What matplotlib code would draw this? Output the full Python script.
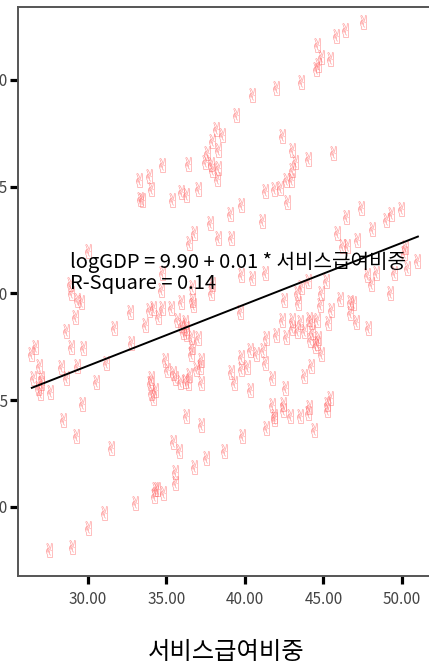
import matplotlib
matplotlib.use("Agg")
import matplotlib.pyplot as plt
import numpy as np

plt.rcParams['font.family'] = ['Noto Sans CJK KR', 'DejaVu Sans']

# service benefit share (%) and log GDP per observation
share = [
    38.15, 38.54, 37.90, 38.28, 37.58, 37.45, 37.83, 37.90, 38.28, 38.22,
    34.71, 36.37, 33.89, 33.25, 34.01, 33.31, 33.44, 35.35, 35.92, 36.24,
    37.01, 37.77, 36.75, 36.43, 38.28, 30.03,
    47.52, 46.37, 45.80, 44.59, 44.84, 45.41, 44.65, 44.52, 43.57, 41.97,
    40.45, 39.43, 42.36, 42.99, 43.18, 44.01, 45.61, 42.99, 42.93, 42.61,
    42.23, 41.85, 41.27, 42.68, 39.75, 39.04, 41.08, 47.39, 46.43, 48.09,
    48.98, 49.30, 49.94, 45.86, 47.13, 46.18, 46.50, 39.11, 50.19,
    50.13, 50.96, 50.32, 49.49, 48.34, 47.77, 48.03, 49.24, 46.05, 46.69,
    46.88, 46.69, 45.48, 47.07, 47.83, 44.84, 45.16, 44.01, 43.57, 43.31,
    43.38, 42.48, 44.78, 41.27, 40.45, 39.75, 39.68, 42.36, 42.99, 43.50,
    42.99, 43.31, 43.76, 44.08, 44.20, 44.59, 44.27, 45.29, 41.97, 42.61,
    41.34, 44.14, 44.65, 44.46, 44.59, 44.84, 41.15, 40.70, 40.32, 39.75,
    41.27, 40.13, 39.75, 39.11, 39.30, 44.20, 41.72, 43.76, 40.32, 42.55,
    45.41, 45.22, 42.42, 41.72, 44.08,
    34.71, 28.85, 28.92, 29.30, 29.55, 29.17, 28.60, 28.92, 29.68, 26.62,
    26.37, 26.88, 26.50, 27.01, 27.01, 26.82, 27.58, 26.94, 28.28, 28.60,
    29.30, 30.51, 31.15, 31.66, 32.74, 32.68, 33.63, 33.89, 34.14, 34.46,
    34.71, 35.29, 35.92, 34.65, 35.67, 35.92, 36.18, 36.24, 36.05, 36.24,
    36.56, 36.62, 37.01, 36.62, 36.69, 36.56, 37.20, 37.13, 36.88, 36.43,
    37.20, 34.90, 35.03, 35.41, 35.54, 35.86, 36.18, 36.37, 34.01, 33.95,
    34.27, 34.01, 34.14, 29.62, 37.83, 36.62, 37.90,
    28.41, 29.24, 31.46, 36.24, 37.20, 35.41, 35.80, 37.52, 36.75, 38.66,
    35.54, 35.54, 34.27, 34.39, 34.20, 34.78, 32.99, 31.02, 30.00, 28.98,
    27.52,
    41.85, 41.85, 42.42, 42.87, 43.50, 44.01, 45.22, 44.39, 41.34, 39.81,
]
log_gdp = [
    10.886, 10.872, 10.858, 10.835, 10.830, 10.807, 10.804, 10.790, 10.793, 10.767,
    10.802, 10.804, 10.774, 10.765, 10.744, 10.722, 10.720, 10.720, 10.737, 10.730,
    10.744, 10.666, 10.641, 10.617, 10.631, 10.600,
    11.135, 11.118, 11.102, 11.083, 11.053, 11.048, 11.036, 11.025, 10.996, 10.982,
    10.964, 10.919, 10.868, 10.835, 10.807, 10.814, 10.828, 10.788, 10.765, 10.765,
    10.748, 10.744, 10.741, 10.715, 10.706, 10.685, 10.669, 10.701, 10.678, 10.650,
    10.673, 10.687, 10.697, 10.641, 10.626, 10.612, 10.612, 10.631, 10.608,
    10.594, 10.577, 10.559, 10.547, 10.549, 10.542, 10.523, 10.502, 10.488, 10.479,
    10.477, 10.453, 10.460, 10.432, 10.420, 10.502, 10.530, 10.530, 10.514, 10.500,
    10.477, 10.484, 10.472, 10.549, 10.537, 10.542, 10.456, 10.437, 10.437, 10.432,
    10.420, 10.413, 10.413, 10.441, 10.432, 10.437, 10.409, 10.430, 10.402, 10.397,
    10.395, 10.392, 10.395, 10.378, 10.383, 10.359, 10.367, 10.359, 10.367, 10.350,
    10.336, 10.327, 10.322, 10.315, 10.289, 10.329, 10.301, 10.306, 10.273, 10.278,
    10.256, 10.242, 10.242, 10.238, 10.235,
    10.547, 10.523, 10.500, 10.484, 10.479, 10.444, 10.413, 10.374, 10.371, 10.374,
    10.359, 10.331, 10.301, 10.303, 10.289, 10.278, 10.268, 10.266, 10.327, 10.301,
    10.331, 10.292, 10.338, 10.420, 10.383, 10.456, 10.425, 10.460, 10.465, 10.444,
    10.467, 10.465, 10.479, 10.507, 10.437, 10.425, 10.432, 10.420, 10.409, 10.406,
    10.397, 10.374, 10.395, 10.484, 10.472, 10.359, 10.343, 10.327, 10.324, 10.308,
    10.289, 10.343, 10.320, 10.313, 10.301, 10.292, 10.296, 10.289, 10.301, 10.289,
    10.273, 10.266, 10.254, 10.242, 10.500, 10.514, 10.523,
    10.203, 10.167, 10.139, 10.214, 10.191, 10.151, 10.130, 10.114, 10.093, 10.132,
    10.081, 10.055, 10.043, 10.043, 10.025, 10.032, 10.008, 9.985, 9.950, 9.905,
    9.900,
    10.214, 10.207, 10.226, 10.214, 10.214, 10.221, 10.226, 10.179, 10.184, 10.167,
]

# linear fit reported on the chart
intercept = 9.898
slope = 0.01441
fit_range = [26.43, 51.02]

x_ticks = [30, 35, 40, 45, 50]
y_ticks = [10.00, 10.25, 10.50, 10.75, 11.00]

fig = plt.figure(figsize=(4.29, 6.65), dpi=100)
ax = fig.add_axes([0.042, 0.1338, 0.968, 0.8557])

ax.scatter(share, log_gdp, marker="$\u270C$", s=110, color="#ff6464",
           alpha=0.72, linewidths=0, zorder=2)

fx = np.array(fit_range)
ax.plot(fx, intercept + slope * fx, color="black", lw=1.4, zorder=3)

ax.text(28.85, 10.559, "logGDP = 9.90 + 0.01 * 서비스급여비중",
        fontsize=14.5, va="baseline", ha="left", zorder=4)
ax.text(28.85, 10.510, "R-Square = 0.14",
        fontsize=14.5, va="baseline", ha="left", zorder=4)

ax.set_xlim(25.55, 52.0)
ax.set_ylim(9.838, 11.171)
ax.set_xticks(x_ticks)
ax.set_xticklabels([f"{v:.2f}" for v in x_ticks])
ax.set_yticks(y_ticks)
ax.set_yticklabels([f"{v:.2f}" for v in y_ticks])

ax.tick_params(axis="both", length=6, width=2.3, color="black",
               labelsize=11, labelcolor="#444444")
ax.tick_params(axis="y", pad=1)
ax.tick_params(axis="x", pad=5)

for side in ["top", "left", "bottom", "right"]:
    ax.spines[side].set_color("#555555")
    ax.spines[side].set_linewidth(1.4)

ax.set_xlabel("서비스급여비중", fontsize=17.5, labelpad=22)

fig.savefig("out.png", dpi=100)
